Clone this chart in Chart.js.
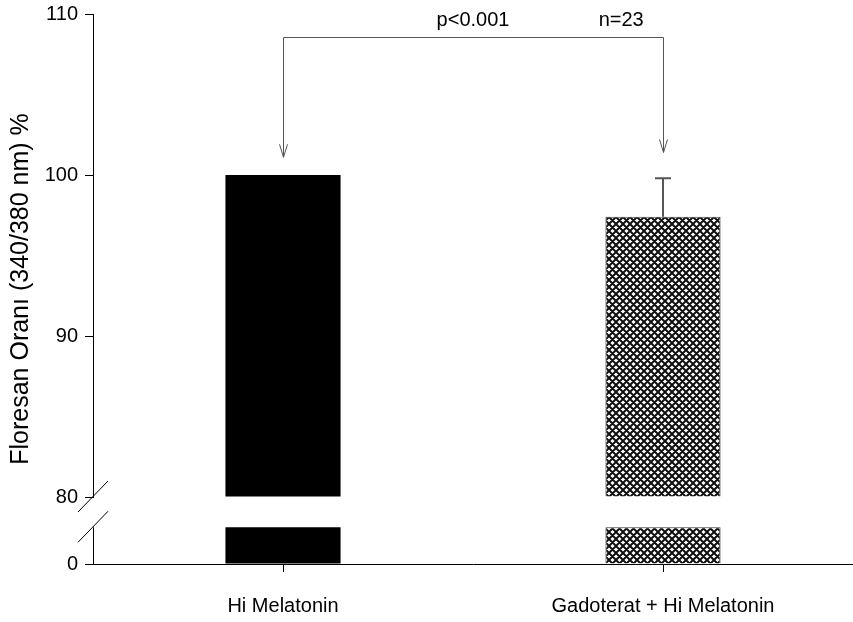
<!DOCTYPE html>
<html lang="tr">
<head>
<meta charset="UTF-8">
<title>Floresan Oranı</title>
<script src="https://cdn.jsdelivr.net/npm/chart.js"></script>
<style>
  html, body { margin: 0; padding: 0; background: #fff; }
  #kutu { width: 853px; height: 622px; }
</style>
</head>
<body>
<div id="kutu"><canvas id="grafik"></canvas></div>
<script>
    // veriler
    var gruplar = ['Hi Melatonin', 'Gadoterat + Hi Melatonin'];
    var degerler = [100, 97.4];
    var hatalar = [0, 2.4];
    var yBaslik = 'Floresan Oranı (340/380 nm) %';
    var ustTikler = [80, 90, 100, 110];
    var altTikler = [0];
    var kirilma = 80;          // eksen kırılması
    var altUst = 146;          // alt parçanın üst sınırı
    // ok ve not (veri biriminde)
    var koprüY = 108.6;
    var okUclari = [101.1, 101.4];
    var notlar = ['p<0.001', 'n=23'];
    var notX = [0.5, 0.89];
    var notY = 109.6;

    var yazi = '"Liberation Sans", Arial, sans-serif';

    function tarama() {
        var n = 7;
        var c = document.createElement('canvas');
        c.width = n; c.height = n;
        var g = c.getContext('2d');
        g.fillStyle = '#fff';
        g.fillRect(0, 0, n, n);
        g.strokeStyle = '#111';
        g.lineWidth = 2;
        g.beginPath();
        for (var k = -n; k <= n; k += n) {
            g.moveTo(k - 1, -1); g.lineTo(k + n + 1, n + 1);
            g.moveTo(k - 1, n + 1); g.lineTo(k + n + 1, -1);
        }
        g.stroke();
        return g.createPattern(c, 'repeat');
    }
    var desen = tarama();
    var renkler = ['#000000', desen];
    var kenarlar = ['#000000', '#333333'];

    var kirikEksen = {
        id: 'kirikEksen',
        afterDatasetsDraw: function (chart) {
            var ctx = chart.ctx;
            var ca = chart.chartArea;
            var x = chart.scales.x, y = chart.scales.y, ya = chart.scales.yAlt;
            var ex = y.right;
            ctx.save();
            // alt eksen çizgisi
            ctx.strokeStyle = '#000';
            ctx.lineWidth = 1;
            var altUcY = ya.getPixelForValue(kirilma);
            ctx.beginPath();
            ctx.moveTo(ex + 0.5, altUcY);
            ctx.lineTo(ex + 0.5, ca.bottom);
            ctx.stroke();
            // kırılma işaretleri
            [y.bottom, altUcY].forEach(function (py) {
                ctx.beginPath();
                ctx.moveTo(ex - 15, py + 15);
                ctx.lineTo(ex + 15, py - 16);
                ctx.stroke();
            });
            // hata çubukları
            var meta = chart.getDatasetMeta(0);
            ctx.strokeStyle = '#555';
            ctx.lineWidth = 2;
            for (var i = 0; i < degerler.length; i++) {
                if (!hatalar[i]) continue;
                var bx = meta.data[i].x;
                var y1 = y.getPixelForValue(degerler[i]);
                var y2 = y.getPixelForValue(degerler[i] + hatalar[i]);
                ctx.beginPath();
                ctx.moveTo(bx, y1); ctx.lineTo(bx, y2);
                ctx.moveTo(bx - 8, y2); ctx.lineTo(bx + 8, y2);
                ctx.stroke();
            }
            // köprü ve oklar
            ctx.strokeStyle = '#555';
            ctx.lineWidth = 1;
            var ky = Math.round(y.getPixelForValue(koprüY)) + 0.5;
            var x0 = Math.round(x.getPixelForValue(0)) + 0.5;
            var x1 = Math.round(x.getPixelForValue(1)) + 0.5;
            var u0 = y.getPixelForValue(okUclari[0]);
            var u1 = y.getPixelForValue(okUclari[1]);
            ctx.beginPath();
            ctx.moveTo(x0, u0); ctx.lineTo(x0, ky); ctx.lineTo(x1, ky); ctx.lineTo(x1, u1);
            [[x0, u0], [x1, u1]].forEach(function (p) {
                ctx.moveTo(p[0] - 4, p[1] - 13); ctx.lineTo(p[0], p[1]); ctx.lineTo(p[0] + 4, p[1] - 13);
            });
            ctx.stroke();
            // notlar
            ctx.fillStyle = '#000';
            ctx.font = '20px ' + yazi;
            ctx.textAlign = 'center';
            ctx.textBaseline = 'middle';
            for (var j = 0; j < notlar.length; j++) {
                ctx.fillText(notlar[j], x.getPixelForValue(notX[j]), y.getPixelForValue(notY));
            }
            // y başlığı
            ctx.translate(21, (ca.top + ca.bottom) / 2);
            ctx.rotate(-Math.PI / 2);
            ctx.font = '25px ' + yazi;
            ctx.fillText(yBaslik, 0, 0);
            ctx.restore();
        }
    };

    var tikAyar = { color: '#000', font: { size: 20, family: yazi }, padding: 7 };

    var grafico = new Chart(document.getElementById('grafik'), {
        type: 'bar',
        data: {
            labels: gruplar,
            datasets: [{
                data: degerler,
                yAxisID: 'y',
                base: kirilma,
                backgroundColor: renkler,
                borderColor: kenarlar,
                borderWidth: [0, 1],
                grouped: false,
                categoryPercentage: 1,
                barPercentage: 0.303
            }, {
                data: degerler.map(function (v) { return Math.min(v, kirilma); }),
                yAxisID: 'yAlt',
                backgroundColor: renkler,
                borderColor: kenarlar,
                borderWidth: [0, 1],
                grouped: false,
                categoryPercentage: 1,
                barPercentage: 0.303
            }]
        },
        options: {
            responsive: true,
            maintainAspectRatio: false,
            animation: false,
            layout: { padding: { top: 14, right: 0, bottom: 0, left: 0 } },
            plugins: { legend: { display: false }, tooltip: { enabled: false } },
            scales: {
                x: {
                    grid: { offset: false, drawOnChartArea: false, drawTicks: true, tickLength: 8, color: '#000' },
                    border: { display: true, color: '#000', width: 1 },
                    ticks: { color: '#000', font: { size: 20, family: yazi }, padding: 22 },
                    afterFit: function (s) { s.height = 58; }
                },
                yAlt: {
                    position: 'left',
                    stack: 'sol',
                    stackWeight: 67,
                    weight: 0,
                    min: 0,
                    max: altUst,
                    afterBuildTicks: function (s) { s.ticks = altTikler.map(function (v) { return { value: v }; }); },
                    grid: { drawOnChartArea: false, tickLength: 8, color: '#000' },
                    border: { display: false },
                    ticks: tikAyar,
                    afterFit: function (s) { s.width = 93; s.paddingTop = 0; }
                },
                y: {
                    position: 'left',
                    stack: 'sol',
                    stackWeight: 483,
                    weight: 1,
                    min: 80,
                    max: 110,
                    afterBuildTicks: function (s) { s.ticks = ustTikler.map(function (v) { return { value: v }; }); },
                    grid: { drawOnChartArea: false, tickLength: 8, color: '#000' },
                    border: { display: true, color: '#000', width: 1 },
                    ticks: tikAyar,
                    afterFit: function (s) { s.width = 93; s.paddingTop = 0; }
                }
            }
        },
        plugins: [kirikEksen]
    });
</script>
</body>
</html>
